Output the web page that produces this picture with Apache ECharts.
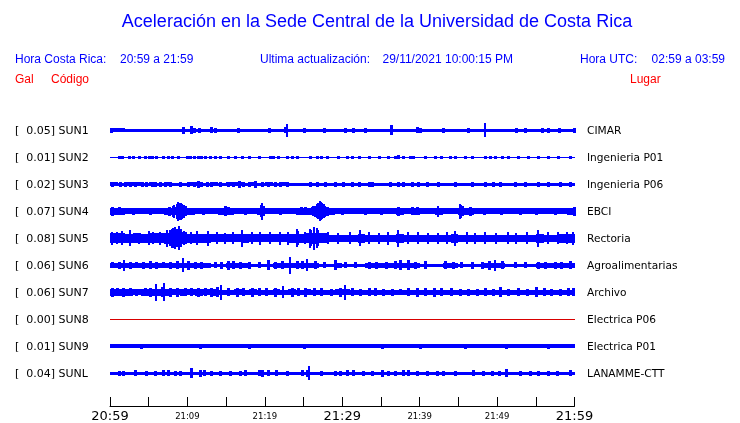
<!DOCTYPE html>
<html><head><meta charset="utf-8">
<script src="https://cdn.jsdelivr.net/npm/echarts@6/dist/echarts.min.js"></script>
<style>html,body{margin:0;padding:0;background:#fff}#c{width:740px;height:423px}</style>
</head><body><div id="c"></div>
<script>
// ---------- DATA ----------
const timeLabels = ['20:59','21:09','21:19','21:29','21:39','21:49','21:59'];
const bigLabelIdx = [0, 3, 6];
const codes  = ['SUN1','SUN2','SUN3','SUN4','SUN5','SUN6','SUN7','SUN8','SUN9','SUNL'];
const gal    = ['0.05','0.01','0.02','0.07','0.08','0.06','0.06','0.00','0.01','0.04'];
const places = ['CIMAR','Ingenieria P01','Ingenieria P06','EBCI','Rectoria','Agroalimentarias','Archivo','Electrica P06','Electrica P01','LANAMME-CTT'];

// envelope half-amplitude per minute (display units) and narrow peaks [minute, half-amplitude]
const env_SUN1 = [2,2,1.5,1.2,1.2,1.5,1.5,1.2,1.2,1.7, 1.7,1.7,1.7,1.7,1.5,1.5,1.5,1.5,1.5,1.5, 1.5,1.5,1.8,1.8,1.5,1.5,1.5,1.5,1.5,1.5, 1.5,1.5,1.5,1.5,1.5,1.5,1.7,1.7,1.8,1.8, 1.8,1.5,1.5,1.5,1.5,1.5,1.5,1.5,1.7,1.7, 1.5,1.5,1.5,1.5,1.5,1.8,1.8,1.8,1.8,1.8];
const peaks_SUN1 = [[0.1,2.5],[9.4,3.3],[10.4,4],[10.9,2.5],[11.5,2.5],[13.1,3],[13.5,2.5],[16.5,2.2],[20.5,2.2],[22.6,3],[22.8,6.5],[25,2.2],[27.6,2.5],[30.3,2.5],[31.4,2.5],[33,2.2],[36.3,5],[39.7,3],[40,2.5],[43,2.2],[46.3,2.5],[48.4,7],[52.5,2.5],[53.6,2.5],[55.8,2.5],[56.6,2.5],[58,2.5],[59.9,2.5]];

const env_SUN2 = [0.5,0.5,0.5,0.5,0.5,0.5,0.5,0.5,0.5,0.5, 0.5,0.5,0.5,0.5,0.5,0.5,0.5,0.5,0.5,0.5, 0.5,0.5,0.5,0.5,0.5,0.5,0.5,0.5,0.5,0.5, 0.5,0.5,0.5,0.5,0.5,0.5,0.5,0.5,0.5,0.5, 0.5,0.5,0.5,0.5,0.5,0.5,0.5,0.5,0.5,0.5, 0.5,0.5,0.5,0.5,0.5,0.5,0.5,0.5,0.5,0.5];
const peaks_SUN2 = [[1.1,1.5],[1.5,1.5],[2.4,1.5],[3,1.5],[3.7,1.5],[4.5,1.5],[5,1.5],[5.4,1.5],[6,1.5],[6.9,1.5],[7.5,1.5],[8,1.5],[8.8,1.5],[9.9,1.5],[10.3,1.5],[10.8,1.5],[11.4,1.5],[11.8,1.5],[12.3,1.5],[12.9,1.5],[13.6,1.5],[14.2,1.5],[15.3,1.5],[16.1,1.5],[17,1.5],[17.9,1.5],[19.2,1.5],[20.7,1.5],[21.1,1.5],[21.7,1.5],[22.8,1.5],[23.5,1.5],[24.1,1.5],[25.8,1.5],[26.7,1.5],[27.3,1.5],[28,1.5],[29.5,1.5],[30.6,1.5],[31.2,1.5],[32.1,1.5],[33.4,1.5],[34.7,1.5],[35.9,1.5],[36.8,1.5],[37.2,2],[37.9,1.5],[38.7,1.5],[39.2,1.5],[40.7,1.5],[42,1.5],[42.8,1.5],[43.9,1.5],[44.6,1.5],[45.8,1.5],[46.7,1.5],[48.4,1.5],[49.1,1.5],[49.7,1.5],[50.6,1.5],[51.4,1.5],[52.7,1.5],[54,1.5],[55.3,1.5],[56.6,1.5],[57.9,1.5],[59.4,1.5]];

const env_SUN3 = [2,1.8,2,2,1.8,2,1.8,2,1.8,1.8, 2,2,1.8,2,1.8,2,2,1.8,2,1.8, 2,1.8,2,1.8,1.8,1.8,1.8,1.8,1.8,1.8, 1.8,1.8,1.8,1.8,1.8,1.8,1.8,1.8,1.8,1.8, 1.8,1.8,1.8,1.8,1.8,1.8,1.8,1.8,1.8,1.8, 1.8,1.8,1.8,1.8,1.8,1.8,1.8,1.8,1.8,1.8];
const peaks_SUN3 = [[0.2,2.7],[1.3,2.7],[1.9,2.7],[2.6,2.7],[3.2,2.7],[4.1,2.7],[4.7,2.7],[5.4,2.7],[5.8,2.7],[6.5,2.7],[7.1,2.7],[7.8,2.7],[9,2.7],[10.1,2.7],[10.8,2.7],[11.4,3.3],[11.8,2.7],[12.5,2.7],[13.1,2.7],[14.2,2.7],[15.3,2.7],[15.9,2.7],[16.6,3.3],[17.2,2.7],[17.9,2.7],[18.7,3.3],[19.6,2.7],[20.4,2.7],[21.3,2.7],[21.9,2.7],[22.8,2.7],[25.8,2.7],[26.7,2.7],[27.8,2.7],[29.1,2.7],[30.1,2.7],[31.2,2.7],[32.1,2.7],[33.4,2.7],[33.8,2.7],[36.2,2.7],[37.2,2.7],[37.9,2.7],[39,2.7],[39.8,2.7],[40.9,2.7],[42.4,2.7],[44.6,2.7],[46.7,2.7],[48.4,2.7],[49.5,2.7],[50.4,2.7],[52.3,2.7],[53.6,2.7],[55.3,2.7],[56.6,2.7],[58.1,2.7],[59.4,2.7]];

const env_SUN4 = [3.5,3.3,3,3,3,3,3,3.3,4,4.5, 3.5,3,3,3,3.3,3.5,3,3,3,3.5, 3,3,3,3,3.3,3.2,4,4.5,3.5,3, 3,3,3,3,3,3,3,3.3,3,3.3, 3,3,3.3,3,3,3.5,3.3,3,3,3, 3,3,3,3,3,3,3,3,3,3.5];
const peaks_SUN4 = [[0.3,4.5],[1.2,4],[3,3.5],[5.2,3.5],[7.6,4.5],[8.1,5.5],[8.3,6.5],[8.6,7.5],[8.75,9.5],[8.9,8.8],[9.05,8],[9.2,8.5],[9.35,7.5],[9.5,6.5],[9.7,5],[12,3.6],[14.9,5],[15.3,4],[17.5,3.5],[19.45,6],[19.6,8.3],[19.8,5],[22,3.6],[24.7,4],[25.2,4],[26.2,5],[26.5,5.5],[26.7,7],[26.9,8],[27.1,10],[27.25,9],[27.4,8],[27.6,7],[27.8,5.5],[28,4.5],[30,3.6],[33,3.8],[35,3.5],[37.2,4.7],[39,4],[39.6,4],[42.4,5.3],[45.2,7.8],[45.35,6.5],[45.5,5],[46.5,4.5],[48.3,3.6],[50.5,3.8],[53,3.5],[55,3.8],[57.5,3.6],[59.9,4.5]];

const env_SUN5 = [5,5,4.5,5,4.5,5,5,5.5,6,6, 4.5,4.5,4.5,4,4,4,4,4.5,4,4, 4,4,4,4.5,4.5,5,5.5,5,3.8,3.8, 3.8,3.8,4.2,3.8,3.8,3.8,3.8,4.2,3.8,3.8, 3.8,3.8,3.8,3.8,4.2,3.8,3.8,3.8,3.8,3.8, 3.8,3.8,3.8,3.8,3.8,4.2,3.8,3.8,4.2,4.5];
const peaks_SUN5 = [[0.2,6.3],[0.9,6],[1.5,7],[2.6,8],[3.7,5.5],[5,7],[5.6,6],[6.5,6.5],[7.3,8.5],[7.8,8],[8,9.5],[8.2,10],[8.4,11],[8.6,9],[8.9,12],[9.2,9],[9.5,7],[10.5,6],[11.2,7],[12.7,7.5],[13.8,6],[14.9,5.5],[15.9,6],[17.1,8.5],[18.3,6],[19.4,6.5],[20.7,6],[22,6.5],[23,6.5],[24.1,9],[24.3,7],[25.2,6],[25.8,9.5],[26,8],[26.4,11.5],[26.7,10],[26.9,8],[28.2,6],[29.5,5.5],[31,6],[32.3,8],[33.4,6],[34.7,5.5],[35.9,6.5],[37.2,8.3],[38.5,6],[39.8,6],[41.1,5.5],[42.4,5.5],[43.5,6],[44.6,7.2],[46.1,6],[47.1,5.5],[48.4,6],[49.9,5.5],[51.4,6],[52.5,5.5],[53.8,6],[55.3,8.3],[56.6,6],[57.9,6],[59,6],[59.8,6.5]];

const env_SUN6 = [2.3,2.3,2.3,2.3,2.3,2.3,2.3,2.3,2.3,2.3, 2.3,2.3,2.3,1.7,1.7,2.3,2.3,2.3,1.7,1.7, 1.7,2.3,2.3,2.3,2.3,2.3,2.3,1.7,1.7,2.5, 1.7,1.7,1.7,2.3,2.3,2.3,2.3,2.3,2.3,2.3, 1.7,1.7,1.7,2.3,2.3,1.8,1.8,1.8,2.5,2.5, 2.5,1.7,1.7,1.7,1.7,2.3,2.3,2.3,2.3,2.3];
const peaks_SUN6 = [[0.2,3],[1.1,3.5],[1.8,5.8],[2.6,3.5],[3.4,3],[4.3,3.5],[5.2,4],[6,3.5],[6.9,3],[7.7,3.5],[8.6,4],[9.4,7],[10.1,4.5],[11,3.5],[11.8,3.5],[13.6,3],[14.4,3.5],[15.3,4.5],[15.9,4],[16.8,3.5],[17.9,3.5],[19.2,3],[20.4,5],[21.3,3.5],[22.2,4],[23.2,8.8],[24.1,4],[24.8,4],[25.4,6],[26.5,4],[27.6,3],[29.1,5],[30.3,3],[31.6,3],[33.4,3.5],[34.4,3.5],[35.7,3.5],[36.8,4],[37.5,5],[38.5,5],[39.4,3.5],[40.7,4],[43.3,4],[44.3,3.5],[45.4,3],[46.7,3.5],[48,3.5],[48.9,4.5],[49.7,5.5],[50.6,4],[52.3,3],[53.6,3],[55.3,3.5],[56.2,3.5],[57.5,3.5],[58.3,3.5],[59.4,4]];

const env_SUN7 = [3.3,3.3,3.3,3,3.3,3.3,3.3,3.3,3,3.3, 3,3.3,3,3.3,2.6,2.6,3,2.6,3,2.6, 2.6,3,2.6,3,2.6,3,2.6,2.6,2.6,3, 3,2.3,2.3,2.3,2.3,2.3,2.3,2.3,2.3,2.6, 2.3,2.6,2.3,2.3,2.3,2.3,2.3,2.3,2.6,2.3, 2.6,2.3,2.3,2.3,2.6,2.3,2.3,2.3,2.3,2.6];
const peaks_SUN7 = [[0.2,4.5],[0.9,4],[1.7,4.5],[2.6,4],[3.4,3.5],[4.5,4],[5.2,4.5],[6,8.5],[6.7,5],[7,9],[7.7,4.5],[8.6,4.5],[9.7,4],[10.5,4],[11.4,4.5],[12.3,4],[13.1,4.5],[13.8,5],[14.4,7.5],[15.3,4],[16.4,4.5],[17.2,4],[18.3,4.5],[19.2,4],[20.2,4],[21.3,4.5],[22.4,6],[23.5,4.5],[24.3,4],[25.2,4.5],[26.3,4],[27.3,4],[28.6,3.5],[29.7,4.5],[30.3,7.7],[31.2,4],[32.3,3.5],[33.4,4],[34.2,4],[35.3,3.5],[36.4,3.5],[37.5,3],[38.5,4],[39.6,4.5],[40.7,4],[41.8,4.5],[42.8,4],[44.1,4],[45.2,3.5],[46.3,3.5],[47.4,3.5],[48.4,4],[49.5,3.5],[50.4,5],[51.4,3.5],[52.7,4],[53.8,3.5],[55,5],[56,4],[57,3.5],[58.1,3.5],[59.2,4],[59.8,4]];

const env_SUN8 = [0,0,0,0,0,0,0,0,0,0, 0,0,0,0,0,0,0,0,0,0, 0,0,0,0,0,0,0,0,0,0, 0,0,0,0,0,0,0,0,0,0, 0,0,0,0,0,0,0,0,0,0, 0,0,0,0,0,0,0,0,0,0];
const peaks_SUN8 = [];

const env_SUN9 = [1.9,1.9,1.9,1.9,1.9,1.9,1.9,1.9,1.9,1.9, 1.9,1.9,1.9,1.9,1.9,1.9,1.9,1.9,1.9,1.9, 1.9,1.9,1.9,1.9,1.9,1.9,1.9,1.9,1.9,1.9, 1.9,1.9,1.9,1.9,1.9,1.9,1.9,1.9,1.9,1.9, 1.9,1.9,1.9,1.9,1.9,1.9,1.9,1.9,1.9,1.9, 1.9,1.9,1.9,1.9,1.9,1.9,1.9,1.9,1.9,1.9];
const peaks_SUN9 = [[4,2.3],[11.6,2.5],[18,2.3],[25,2.5],[35.1,2.5],[40,2.3],[45.8,2.5],[51.2,2.5],[56.6,2.5]];

const env_SUNL = [1.5,1.5,1.5,1.5,1.5,1.5,1.5,1.5,1.5,1.5, 1.5,1.5,1.5,1.5,1.5,1.5,1.5,1.5,1.5,1.5, 1.5,1.5,1.5,1.5,1.5,1.5,1.5,1.5,1.5,1.5, 1.5,1.5,1.5,1.5,1.5,1.5,1.5,1.5,1.5,1.5, 1.5,1.5,1.5,1.5,1.5,1.5,1.5,1.5,1.5,1.5, 1.5,1.5,1.5,1.5,1.5,1.5,1.5,1.5,1.5,1.5];
const peaks_SUNL = [[1.1,2.5],[1.7,2.5],[3.2,3],[4.7,2.5],[5.8,2.5],[6.9,3],[7.5,3],[8.4,2.5],[9,2.5],[10.4,5],[11.6,3.5],[12.1,3],[13.1,2.2],[14.2,2.2],[15.5,2.5],[16.8,2.5],[17.4,3],[19.2,3],[19.6,3.5],[20.4,3],[21.5,3],[22.8,2.5],[24.8,3],[25.4,3.5],[25.7,7],[27.3,2.2],[29.1,2.2],[29.7,2.5],[30.6,3],[31.4,3],[32.7,2.5],[33.8,2.5],[35.1,3.5],[35.9,2.5],[36.8,2.5],[37.9,3],[38.5,3],[39.6,2.5],[40.9,2.5],[42.2,2.5],[43,2.5],[44.6,2.5],[46.9,3],[48.2,2.5],[49.3,2.5],[50.2,2.5],[51.2,4],[52.9,2.5],[54.2,2.5],[55.3,2.5],[56.6,2.5],[57.7,2.2],[59.4,3]];

const envs  = [env_SUN1,env_SUN2,env_SUN3,env_SUN4,env_SUN5,env_SUN6,env_SUN7,env_SUN8,env_SUN9,env_SUNL];
const peaks = [peaks_SUN1,peaks_SUN2,peaks_SUN3,peaks_SUN4,peaks_SUN5,peaks_SUN6,peaks_SUN7,peaks_SUN8,peaks_SUN9,peaks_SUNL];
const traceColors = ['#0000ff','#0000ff','#0000ff','#0000ff','#0000ff','#0000ff','#0000ff','#d80000','#0000ff','#0000ff'];

// ---------- LAYOUT ----------
const ROW0 = 130.3, ROW_STEP = 27, ROW_H = 27, LEFT = 110, RIGHT = 165.5;
const chart = echarts.init(document.getElementById('c'), null, {renderer: 'canvas'});

function envRenderer(color){
  return function(params, api){
    const t = api.value(0), a = api.value(1);
    const p1 = api.coord([t, a]), p2 = api.coord([t + 1, -a]);
    const x0 = Math.round(p1[0]), x1 = Math.round(p2[0]);
    const y0 = Math.round(p1[1]); let y1 = Math.round(p2[1]);
    if (y1 <= y0) y1 = y0 + 1;
    return {type: 'rect', shape: {x: x0, y: y0, width: x1 - x0, height: y1 - y0}, style: {fill: color}};
  };
}
function peakRenderer(color){
  return function(params, api){
    const t = api.value(0), a = api.value(1);
    const p1 = api.coord([t, a]), p2 = api.coord([t, -a]);
    const w = a > 5 ? 2 : 3;
    const x0 = Math.round(p1[0]) - 1;
    const y0 = Math.round(p1[1]); let y1 = Math.round(p2[1]);
    if (y1 <= y0) y1 = y0 + 1;
    return {type: 'rect', shape: {x: x0, y: y0, width: w, height: y1 - y0}, style: {fill: color}};
  };
}

const grids = [], xAxes = [], yAxes = [], series = [], graphics = [];
codes.forEach((code, i) => {
  const cy = ROW0 + ROW_STEP * i;
  grids.push({left: LEFT, right: RIGHT, top: cy - ROW_H / 2, height: ROW_H});
  xAxes.push({type: 'value', gridIndex: i, min: 0, max: 60, show: false});
  yAxes.push({type: 'value', gridIndex: i, min: -13.5, max: 13.5, show: false});
  series.push({type: 'custom', xAxisIndex: i, yAxisIndex: i, silent: true, animation: false,
    renderItem: envRenderer(traceColors[i]), data: envs[i].map((a, k) => [k, a])});
  if (peaks[i].length) series.push({type: 'custom', xAxisIndex: i, yAxisIndex: i, silent: true, animation: false,
    renderItem: peakRenderer(traceColors[i]), data: peaks[i]});
  graphics.push({type: 'text', x: 15, y: cy + 1, style: {text: '[  ' + gal[i] + '] ' + code, font: '11px "DejaVu Sans"', fill: '#000', verticalAlign: 'middle'}});
  graphics.push({type: 'text', x: 587, y: cy + 1, style: {text: places[i], font: '10.6px "DejaVu Sans"', fill: '#000', verticalAlign: 'middle'}});
});
// time axis grid
const AX = codes.length;
grids.push({left: LEFT, right: RIGHT, top: 399, height: 10});
xAxes.push({type: 'value', gridIndex: AX, min: 0, max: 60, interval: 5, position: 'bottom',
  axisLine: {show: true, onZero: false, lineStyle: {color: '#000', width: 1}},
  axisTick: {show: true, inside: true, length: 9, lineStyle: {color: '#000', width: 1}},
  splitLine: {show: false},
  axisLabel: {show: true, margin: 3, color: '#000',
    formatter: function(v){
      if (v % 10 !== 0) return '';
      const idx = v / 10;
      return bigLabelIdx.indexOf(idx) >= 0 ? '{b|' + timeLabels[idx] + '}' : '{s|' + timeLabels[idx] + '}';
    },
    rich: {
      b: {fontFamily: 'DejaVu Sans', fontSize: 13, color: '#000', lineHeight: 15},
      s: {fontFamily: 'DejaVu Sans', fontSize: 8.5, color: '#000', lineHeight: 15, padding: [1, 0, 0, 0]}
    }}});
yAxes.push({type: 'value', gridIndex: AX, show: false, min: 0, max: 1});

// header texts
const HF = '12px "Liberation Sans"';
graphics.push(
  {type: 'text', x: 377, y: 22, style: {text: 'Aceleración en la Sede Central de la Universidad de Costa Rica', font: '18px "Liberation Sans"', fill: '#0000ff', align: 'center', verticalAlign: 'middle'}},
  {type: 'text', x: 15,  y: 60, style: {text: 'Hora Costa Rica:', font: HF, fill: '#0000ff', verticalAlign: 'middle'}},
  {type: 'text', x: 120, y: 60, style: {text: '20:59 a 21:59', font: HF, fill: '#0000ff', verticalAlign: 'middle'}},
  {type: 'text', x: 260, y: 60, style: {text: 'Ultima actualización:', font: HF, fill: '#0000ff', verticalAlign: 'middle'}},
  {type: 'text', x: 513, y: 60, style: {text: '29/11/2021 10:00:15 PM', font: HF, fill: '#0000ff', align: 'right', verticalAlign: 'middle'}},
  {type: 'text', x: 580, y: 60, style: {text: 'Hora UTC:', font: HF, fill: '#0000ff', verticalAlign: 'middle'}},
  {type: 'text', x: 725, y: 60, style: {text: '02:59 a 03:59', font: HF, fill: '#0000ff', align: 'right', verticalAlign: 'middle'}},
  {type: 'text', x: 15,  y: 80, style: {text: 'Gal', font: HF, fill: '#ff0000', verticalAlign: 'middle'}},
  {type: 'text', x: 51,  y: 80, style: {text: 'Código', font: HF, fill: '#ff0000', verticalAlign: 'middle'}},
  {type: 'text', x: 630, y: 80, style: {text: 'Lugar', font: HF, fill: '#ff0000', verticalAlign: 'middle'}}
);

chart.setOption({
  animation: false,
  backgroundColor: '#fff',
  grid: grids, xAxis: xAxes, yAxis: yAxes, series: series,
  graphic: graphics
});
</script></body></html>
